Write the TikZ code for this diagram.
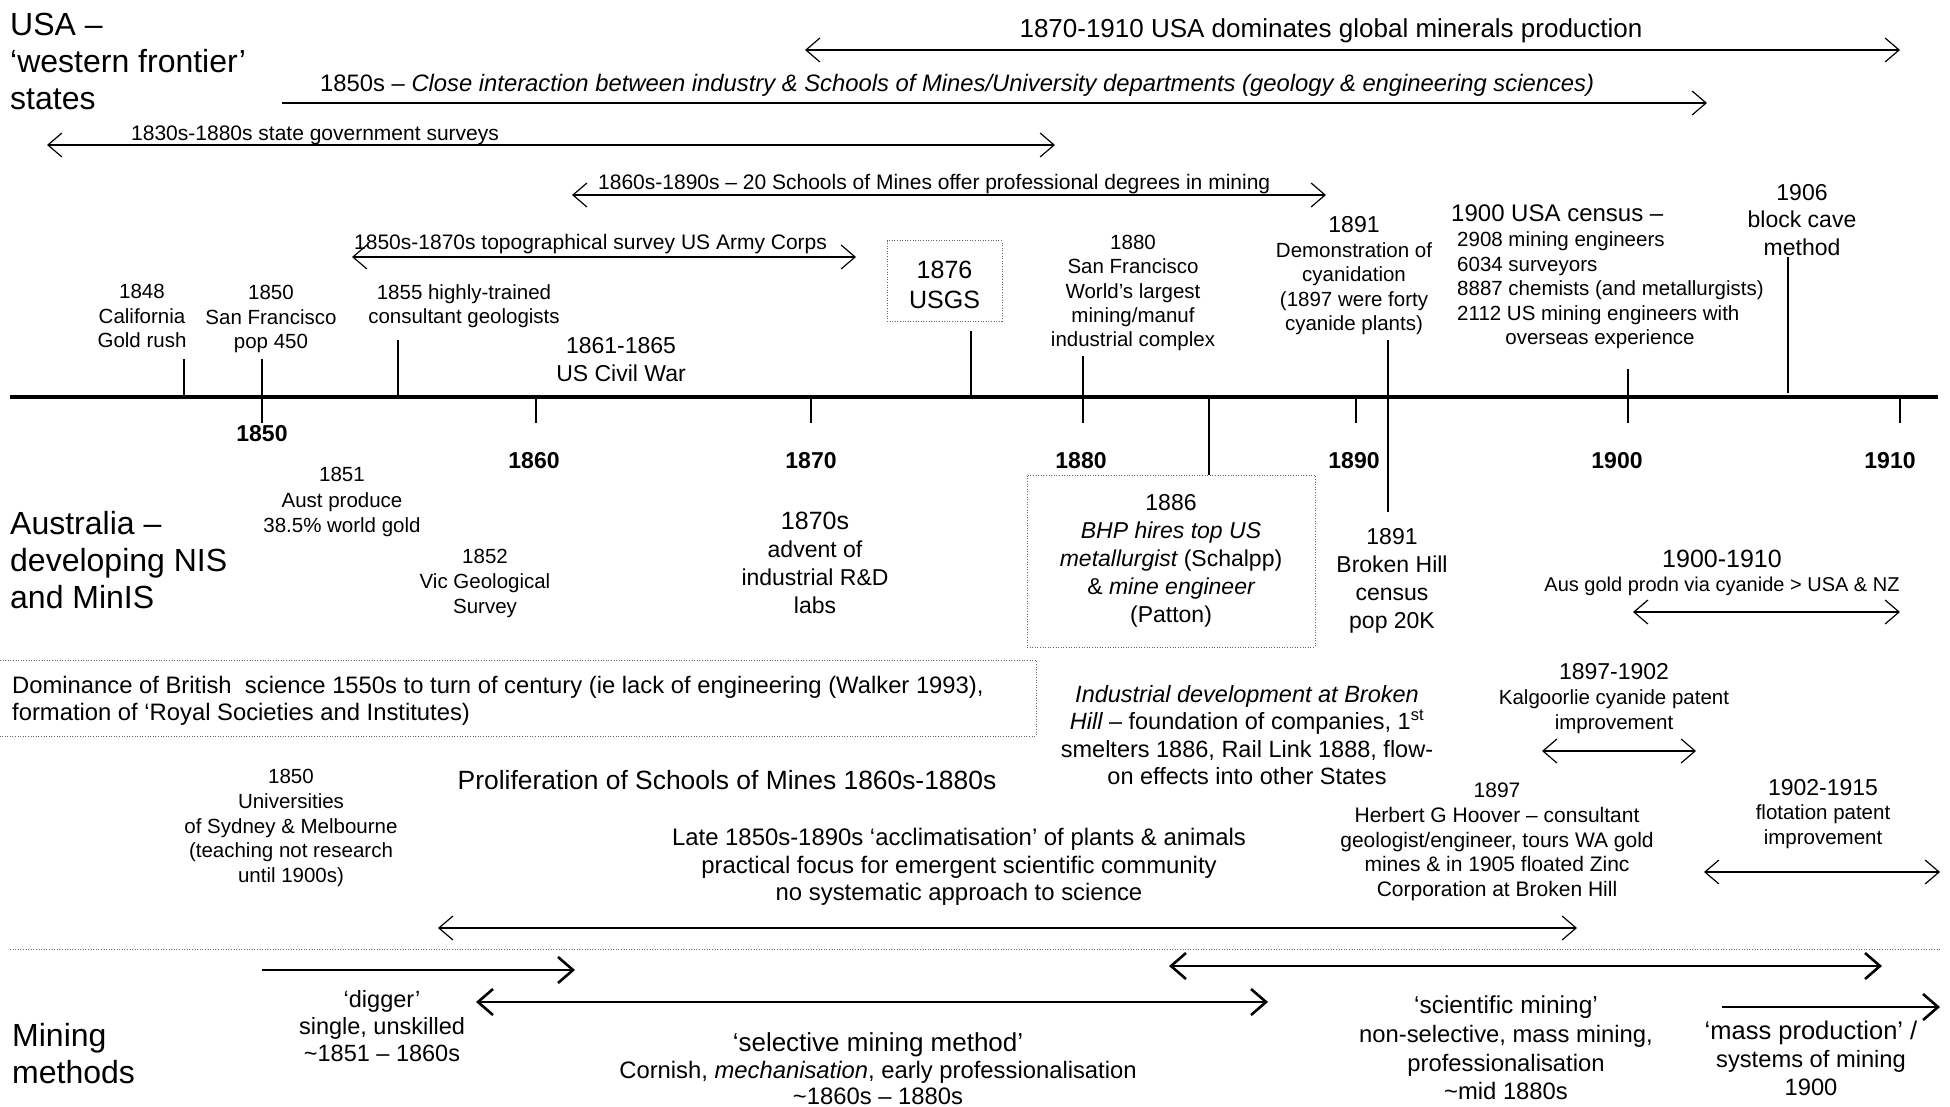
\documentclass[tikz,border=0pt]{standalone}
\usepackage{fontspec}
\setmainfont{Liberation Sans}
\usetikzlibrary{arrows.meta}
\newcommand\fsz[2]{\fontsize{#1}{#2}\selectfont}
\begin{document}
\begin{tikzpicture}[x=1pt,y=-1pt,
  lbl/.style={inner sep=0pt,align=center,font=\fsz{20.5}{24.5}},
  mid/.style={inner sep=0pt,align=center,font=\fsz{23}{28}},
  head/.style={inner sep=0pt,align=left,anchor=west,font=\fsz{32}{37}},
  yr/.style={inner sep=0pt,font=\fsz{23}{28}\bfseries},
  span/.style={line width=1.2pt,{Straight Barb[length=14pt,width=24pt]}-{Straight Barb[length=14pt,width=24pt]}},
  fwd/.style={line width=1.2pt,-{Straight Barb[length=14pt,width=24pt]}},
  mspan/.style={line width=2.6pt,{Straight Barb[length=15pt,width=26pt]}-{Straight Barb[length=15pt,width=26pt]}},
  mfwd/.style={line width=2.6pt,-{Straight Barb[length=15pt,width=26pt]}},
  tick/.style={line width=1.1pt},
  dots/.style={draw=black!60,line width=1pt,dash pattern=on 1pt off 1.6pt},
]
\useasboundingbox (0,0) rectangle (1950,1107);

% ---------- section headings ----------
\node[head] (hUSA) at (10,61) {USA –\\‘western frontier’\\states};
\node[head] (hAus) at (10,560) {Australia –\\developing NIS\\and MinIS};
\node[head] (hMin) at (12,1054) {Mining\\methods};

% ---------- USA period spans ----------
\node[inner sep=0pt,font=\fsz{26}{30}] (tDom) at (1331,31) {1870-1910 USA dominates global minerals production};
\coordinate (dA) at (805,50); \coordinate (dB) at (1900,50);
\draw[span] (dA) -- (dB);

\node[inner sep=0pt,anchor=west,font=\fsz{23.8}{28}] (tClose) at (320,85) {1850s – \itshape Close interaction between industry \& Schools of Mines/University departments (geology \& engineering sciences)};
\coordinate (cA) at (282,103); \coordinate (cB) at (1707,103);
\draw[fwd] (cA) -- (cB);

\node[inner sep=0pt,anchor=west,font=\fsz{21}{25}] (tSurv) at (131,135) {1830s-1880s state government surveys};
\coordinate (sA) at (47,145); \coordinate (sB) at (1055,145);
\draw[span] (sA) -- (sB);

\node[inner sep=0pt,anchor=west,font=\fsz{21}{25}] (tSch) at (598,184) {1860s-1890s – 20 Schools of Mines offer professional degrees in mining};
\coordinate (gA) at (572,195); \coordinate (gB) at (1326,195);
\draw[span] (gA) -- (gB);

\node[inner sep=0pt,anchor=west,font=\fsz{21}{25}] (tTopo) at (354,244) {1850s-1870s topographical survey US Army Corps};
\coordinate (pA) at (352,257); \coordinate (pB) at (856,257);
\draw[span] (pA) -- (pB);

% ---------- time axis ----------
\coordinate (axL) at (10,397); \coordinate (axR) at (1938,397);
\draw[line width=4pt] (axL) -- (axR);
\foreach \n/\x in {a/262,b/536,c/811,d/1083,e/1356,f/1628,g/1900}{
  \coordinate (t\n) at (\x,397); \coordinate (u\n) at (\x,423);
  \draw[tick] (t\n) -- (u\n);
}
\node[yr] (y1850) at (262,434) {1850};
\node[yr] (y1860) at (534,461) {1860};
\node[yr] (y1870) at (811,461) {1870};
\node[yr] (y1880) at (1081,461) {1880};
\node[yr] (y1890) at (1354,461) {1890};
\node[yr] (y1900) at (1617,461) {1900};
\node[yr] (y1910) at (1890,461) {1910};

% ---------- USA events above the axis ----------
\node[lbl] (e1848) at (142,316) {1848\\California\\Gold rush};
\coordinate (k1848a) at (184,359); \coordinate (k1848b) at (184,397);
\draw[tick] (k1848a) -- (k1848b);

\node[lbl] (e1850) at (271,319) {1850\\San Francisco\\pop 450};
\coordinate (k1850a) at (262,359); \coordinate (k1850b) at (262,397);
\draw[tick] (k1850a) -- (k1850b);

\node[lbl] (e1855) at (464,306) {1855 highly-trained\\consultant geologists};
\coordinate (k1855a) at (398,340); \coordinate (k1855b) at (398,397);
\draw[tick] (k1855a) -- (k1855b);

\node[mid] (eWar) at (621,360) {1861-1865\\US Civil War};

\node[draw=black!60,line width=1pt,dash pattern=on 1pt off 1.6pt,minimum width=115pt,minimum height=80pt,inner sep=0pt] (eUSGS) at (944.5,281) {};
\node[inner sep=0pt,align=center,font=\fsz{25}{30}] (eUSGSt) at (944.5,285) {1876\\USGS};
\coordinate (k1876a) at (971,331); \coordinate (k1876b) at (971,397);
\draw[tick] (k1876a) -- (k1876b);

\node[lbl,font=\fsz{20.5}{24.3}] (e1880) at (1133,293) {1880\\San Francisco\\World’s largest\\mining/manuf\\industrial complex};
\coordinate (k1880a) at (1083,356); \coordinate (k1880b) at (1083,397);
\draw[tick] (k1880a) -- (k1880b);

\node[lbl] (e1891) at (1354,276) {{\fsz{23}{26}1891}\\Demonstration of\\cyanidation\\(1897 were forty\\cyanide plants)};
\coordinate (k1891a) at (1388,340); \coordinate (k1891b) at (1388,512);
\draw[tick] (k1891a) -- (k1891b);

\node[inner sep=0pt,anchor=west,font=\fsz{24}{30}] (eCensus) at (1451,213) {1900 USA census –};
\node[lbl,align=left,anchor=west] (eCensusL) at (1457,278) {2908 mining engineers\\6034 surveyors\\8887 chemists (and metallurgists)\\2112 US mining engineers with};
\node[lbl] (eCensusO) at (1600,339) {overseas experience};
\coordinate (k1900a) at (1628,369); \coordinate (k1900b) at (1628,397);
\draw[tick] (k1900a) -- (k1900b);

\node[lbl,font=\fsz{23}{27.5}] (e1906) at (1802,220) {1906\\block cave\\method};
\coordinate (k1906a) at (1788,257); \coordinate (k1906b) at (1788,393);
\draw[tick] (k1906a) -- (k1906b);

% ---------- Australian events below the axis ----------
\node[lbl,font=\fsz{20.5}{25.5}] (a1851) at (342,502) {1851\\Aust produce\\38.5\% world gold};
\node[lbl,font=\fsz{20.5}{25}] (a1852) at (485,583) {1852\\Vic Geological\\Survey};
\node[mid] (a1870) at (815,563) {{\fsz{25}{30}1870s}\\advent of\\industrial R\&D\\labs};

\node[mid,draw=black!60,line width=1pt,dash pattern=on 1pt off 1.6pt,minimum width=288pt,minimum height=172pt] (aBHP) at (1171,561)
  {1886\\\itshape BHP hires top US\\\itshape metallurgist \upshape(Schalpp)\\\& \itshape mine engineer\\(Patton)};
\coordinate (k1886) at (1209,397);
\draw[tick] (k1886) -- (k1886 |- aBHP.north);

\node[mid] (aBH) at (1392,581) {1891\\Broken Hill\\census\\pop 20K};

\node[inner sep=0pt,font=\fsz{25}{30}] (a1900) at (1722,559) {1900-1910};
\node[inner sep=0pt,font=\fsz{20}{24}] (a1900t) at (1722,586) {Aus gold prodn via cyanide > USA \& NZ};
\coordinate (cyA) at (1633,612); \coordinate (cyB) at (1900,612);
\draw[span] (cyA) -- (cyB);

% British science band
\coordinate (bTL) at (0,660); \coordinate (bTR) at (1036,660);
\coordinate (bBL) at (0,736); \coordinate (bBR) at (1036,736);
\draw[dots] (bTL) -- (bTR) -- (bBR) -- (bBL);
\node[inner sep=0pt,align=left,anchor=west,font=\fsz{23.8}{27.5}] (aBrit) at (12,701)
  {Dominance of British \ science 1550s to turn of century (ie lack of engineering (Walker 1993),\\formation of ‘Royal Societies and Institutes)};

\node[inner sep=0pt,align=center,font=\fsz{23.5}{27.5}] (aInd) at (1247,735)
  {\itshape Industrial development at Broken\\\itshape Hill \upshape– foundation of companies, 1\textsuperscript{st}\\smelters 1886, Rail Link 1888, flow-\\on effects into other States};

\node[lbl,font=\fsz{20.5}{25}] (aKal) at (1614,699) {{\fsz{23}{26}1897-1902}\\Kalgoorlie cyanide patent\\improvement};
\coordinate (kaA) at (1542,751); \coordinate (kaB) at (1696,751);
\draw[span] (kaA) -- (kaB);

\node[lbl,font=\fsz{20.5}{24.6}] (aUni) at (291,828) {1850\\Universities\\of Sydney \& Melbourne\\(teaching not research\\until 1900s)};

\node[inner sep=0pt,font=\fsz{26.4}{30}] (aProl) at (727,780) {Proliferation of Schools of Mines 1860s-1880s};

\node[inner sep=0pt,align=center,font=\fsz{23.9}{27.5}] (aAccl) at (959,867)
  {Late 1850s-1890s ‘acclimatisation’ of plants \& animals\\practical focus for emergent scientific community\\no systematic approach to science};
\coordinate (acA) at (438,928); \coordinate (acB) at (1577,928);
\draw[span] (acA) -- (acB);

\node[lbl,font=\fsz{21}{24.8}] (aHoov) at (1497,842) {1897\\Herbert G Hoover – consultant\\geologist/engineer, tours WA gold\\mines \& in 1905 floated Zinc\\Corporation at Broken Hill};

\node[lbl,font=\fsz{20.5}{24.5}] (aFlot) at (1823,814) {{\fsz{23}{26}1902-1915}\\flotation patent\\improvement};
\coordinate (flA) at (1704,872); \coordinate (flB) at (1940,872);
\draw[span] (flA) -- (flB);

% separator above mining methods
\coordinate (sepL) at (10,949); \coordinate (sepR) at (1940,949);
\draw[dots] (sepL) -- (sepR);

% ---------- mining methods ----------
\coordinate (m1A) at (262,970); \coordinate (m1B) at (575,970);
\draw[mfwd] (m1A) -- (m1B);
\coordinate (m2A) at (476,1002); \coordinate (m2B) at (1268,1002);
\draw[mspan] (m2A) -- (m2B);
\coordinate (m3A) at (1169,966); \coordinate (m3B) at (1882,966);
\draw[mspan] (m3A) -- (m3B);
\coordinate (m4A) at (1722,1007); \coordinate (m4B) at (1940,1007);
\draw[mfwd] (m4A) -- (m4B);

\node[lbl,font=\fsz{23.5}{27}] (mDig) at (382,1026) {‘digger’\\single, unskilled\\\textasciitilde1851 – 1860s};
\node[lbl,font=\fsz{23.8}{26.5}] (mSel) at (878,1069) {{\fsz{26}{27}‘selective mining method’}\\Cornish, \itshape mechanisation\upshape, early professionalisation\\\textasciitilde1860s – 1880s};
\node[lbl,font=\fsz{23.8}{28.7}] (mSci) at (1506,1048) {{\fsz{24.5}{28}‘scientific mining’}\\non-selective, mass mining,\\professionalisation\\\textasciitilde mid 1880s};
\node[lbl,font=\fsz{23.7}{28}] (mMass) at (1811,1058) {{\fsz{25.5}{28}‘mass production’ /}\\systems of mining\\1900};
\end{tikzpicture}
\end{document}
